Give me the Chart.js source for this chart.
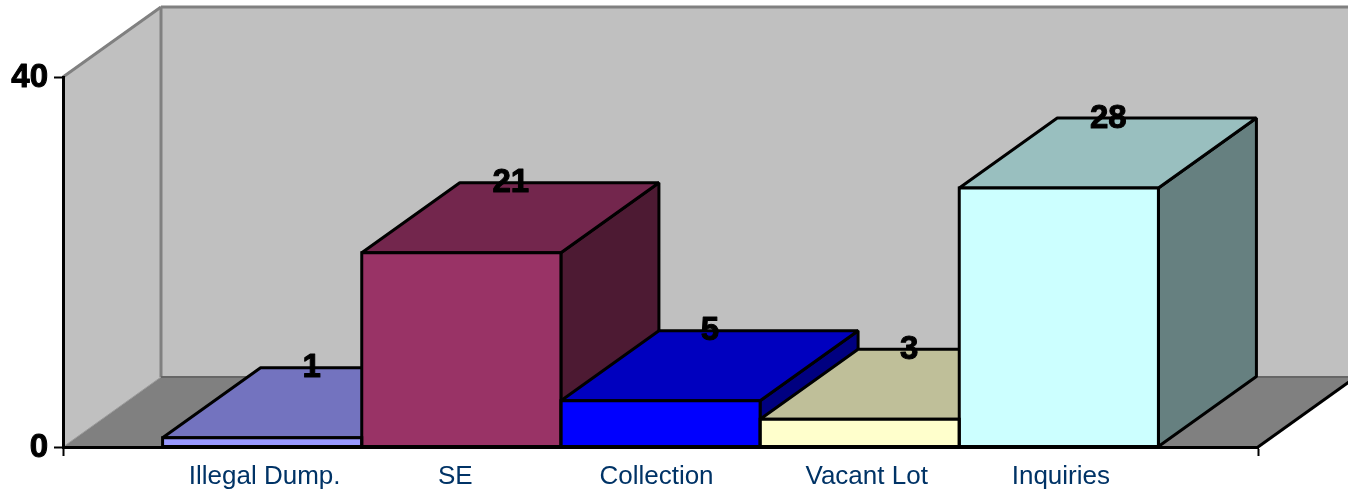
<!DOCTYPE html>
<html><head><meta charset="utf-8">
<style>html,body{margin:0;padding:0;background:#fff}canvas{display:block}</style>
<script src="https://cdn.jsdelivr.net/npm/chart.js@4/dist/chart.umd.js"></script>
</head><body><canvas id="c" width="1348" height="491"></canvas>
<script>
const categories = ['Illegal Dump.', 'SE', 'Collection', 'Vacant Lot', 'Inquiries'];
const values = [1, 21, 5, 3, 28];
const yTicks = [0, 40];
const frontColors = ['#9999FF', '#993366', '#0000FF', '#FFFFCC', '#CCFFFF'];
const topColors = ['#7373BF', '#73264D', '#0000BF', '#BFBF99', '#99BFBF'];
const sideColors = ['#4D1A33', '#4D1A33', '#000080', '#808066', '#668080'];
const labelNudges = [2.5, -6, -4, 7, 2];
const DX = 98, DY = -70;

function poly(ctx, pts, fill, stroke, lw) {
  ctx.beginPath();
  pts.forEach((p, i) => i ? ctx.lineTo(p[0], p[1]) : ctx.moveTo(p[0], p[1]));
  ctx.closePath();
  if (fill) { ctx.fillStyle = fill; ctx.fill(); }
  if (stroke) { ctx.strokeStyle = stroke; ctx.lineWidth = lw; ctx.lineJoin = 'bevel'; ctx.stroke(); }
}
function line(ctx, a, b, color, lw) {
  ctx.beginPath(); ctx.moveTo(a[0], a[1]); ctx.lineTo(b[0], b[1]);
  ctx.strokeStyle = color; ctx.lineWidth = lw; ctx.stroke();
}

const depthPlugin = {
  id: 'depth',
  beforeDraw(chart) {
    const ctx = chart.ctx, x = chart.scales.x, y = chart.scales.y;
    const l = x.left, r = x.right, b = y.getPixelForValue(0), t = y.getPixelForValue(40);
    ctx.save();
    // walls and floor of the 3D box
    poly(ctx, [[l + DX, t + DY], [r + DX, t + DY], [r + DX, b + DY], [l + DX, b + DY]], '#C0C0C0');
    poly(ctx, [[l, t], [l + DX, t + DY], [l + DX, b + DY], [l, b]], '#C0C0C0');
    poly(ctx, [[l, b], [l + DX, b + DY], [r + DX, b + DY], [r, b]], '#808080');
    line(ctx, [l, t], [l + DX, t + DY], '#808080', 3);
    line(ctx, [l + DX, t + DY], [r + DX, t + DY], '#808080', 3);
    line(ctx, [l + DX, t + DY], [l + DX, b + DY], '#808080', 3);
    line(ctx, [l + DX, b + DY], [r + DX, b + DY], '#666666', 2);
    line(ctx, [l, b], [l + DX, b + DY], '#9A9A9A', 1);
    line(ctx, [r, b], [r + DX, b + DY], '#000000', 3);
    ctx.restore();
    ctx.lineJoin = 'round';
    // per-label offsets of the native tick labels
    x.getLabelItems().forEach(item => {
      const i = categories.indexOf(item.label);
      if (i >= 0 && !item._nudged) {
        item.options.translation[0] += labelNudges[i];
        item.options.translation[1] += 1;
        item._nudged = true;
      }
    });
    y.getLabelItems().forEach(item => {
      if (!item._nudged) {
        item.options.translation[1] += 1;
        item.options.translation[0] -= 1;
        item._nudged = true;
      }
    });
  },
  beforeDatasetsDraw(chart) {
    const ctx = chart.ctx;
    ctx.save();
    chart.getDatasetMeta(0).data.forEach((bar, k) => {
      const i = k - 1;
      if (i < 0 || i >= values.length) return;
      const p = bar.getProps(['x', 'y', 'base', 'width']);
      const L = p.x - p.width / 2, R = p.x + p.width / 2;
      poly(ctx, [[R, p.y], [R + DX, p.y + DY], [R + DX, p.base + DY], [R, p.base]], sideColors[i], '#000', 3);
      poly(ctx, [[L, p.y], [L + DX, p.y + DY], [R + DX, p.y + DY], [R, p.y]], topColors[i], '#000', 3);
    });
    ctx.restore();
  },
  afterDatasetsDraw(chart) {
    const ctx = chart.ctx;
    ctx.save();
    const bars = chart.getDatasetMeta(0).data;
    bars.forEach((bar, k) => {
      const i = k - 1;
      if (i < 0 || i >= values.length) return;
      const p = bar.getProps(['x', 'y', 'base', 'width']);
      ctx.strokeStyle = '#000'; ctx.lineWidth = 3; ctx.lineJoin = 'miter';
      ctx.strokeRect(p.x - p.width / 2, p.y, p.width, p.base - p.y);
    });
    ctx.fillStyle = '#000'; ctx.strokeStyle = '#000'; ctx.lineWidth = 1; ctx.lineJoin = 'round';
    ctx.font = 'bold 33px "Liberation Sans", Arial, sans-serif';
    ctx.textAlign = 'center'; ctx.textBaseline = 'middle';
    bars.forEach((bar, k) => {
      const i = k - 1;
      if (i < 0 || i >= values.length) return;
      const tx = bar.x + DX / 2 + 0.5, ty = bar.y + DY + 0.5;
      ctx.strokeText(String(values[i]), tx, ty);
      ctx.fillText(String(values[i]), tx, ty);
    });
    ctx.restore();
  }
};

const last = categories.length + 1;
new Chart(document.getElementById('c'), {
  type: 'bar',
  data: {
    labels: ['', ...categories, ''],
    datasets: [{
      data: [null, ...values, null],
      backgroundColor: ['transparent', ...frontColors, 'transparent'],
      borderWidth: 0,
      barPercentage: 1,
      categoryPercentage: 1
    }]
  },
  plugins: [depthPlugin],
  options: {
    responsive: false,
    animation: false,
    layout: { padding: { top: 77, right: 90, left: 0, bottom: 0 } },
    plugins: { legend: { display: false }, tooltip: { enabled: false } },
    scales: {
      x: {
        type: 'category',
        offset: false,
        afterFit(s) { s.height = 44; s.paddingLeft = 0; s.paddingRight = 0; },
        border: { color: '#000', width: 3 },
        grid: {
          offset: false,
          drawOnChartArea: false, tickLength: 9, tickWidth: 2,
          tickColor: c => (c.index === 0 || c.index === last) ? '#000' : 'transparent'
        },
        ticks: {
          autoSkip: false, maxRotation: 0, minRotation: 0, padding: 4,
          color: '#003366',
          font: { family: '"Liberation Sans", Arial, sans-serif', size: 26 }
        }
      },
      y: {
        min: yTicks[0], max: yTicks[1],
        afterFit(s) { s.width = 63; s.paddingTop = 0; s.paddingBottom = 0; },
        afterBuildTicks(s) { s.ticks = yTicks.map(v => ({ value: v })); },
        border: { color: '#000', width: 3 },
        grid: { drawOnChartArea: false, tickLength: 9, tickWidth: 2, tickColor: '#000' },
        ticks: {
          padding: 5, color: '#000', textStrokeColor: '#000', textStrokeWidth: 1,
          font: { family: '"Liberation Sans", Arial, sans-serif', size: 33, weight: 'bold' }
        }
      }
    }
  }
});
</script></body></html>
